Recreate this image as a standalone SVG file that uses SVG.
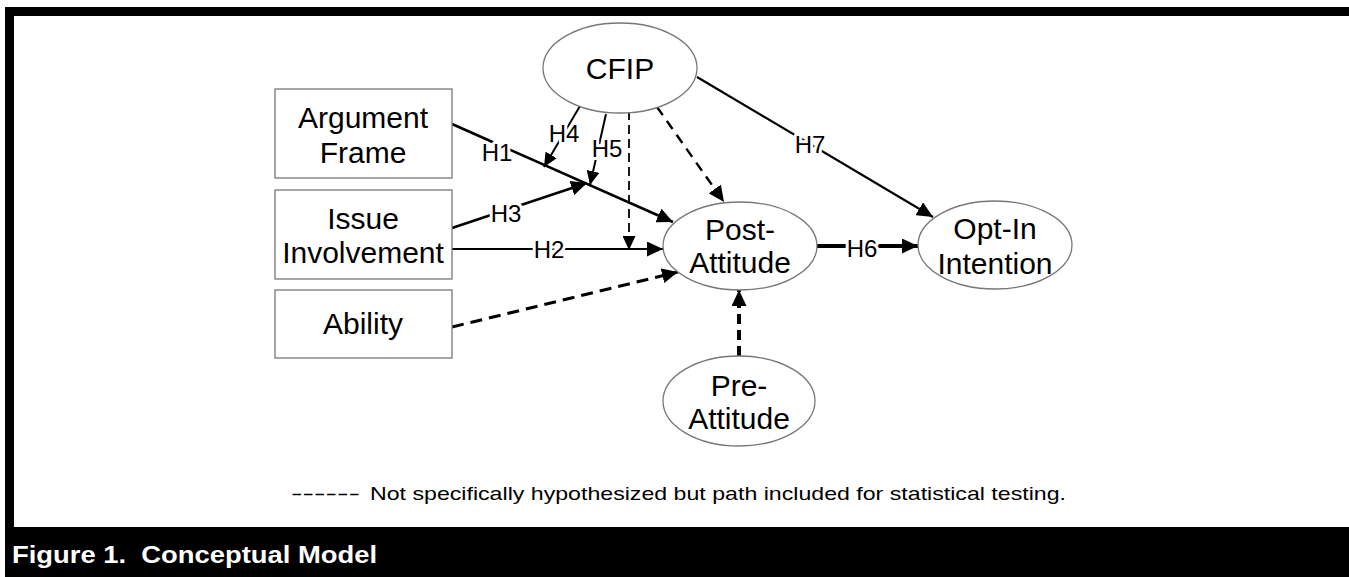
<svg xmlns="http://www.w3.org/2000/svg" width="1349" height="577" viewBox="0 0 1349 577">
<defs>
<style>
.frame{fill:#000}
.box{fill:#fff;stroke:#777;stroke-width:1.3}
.ell{fill:#fff;stroke:#777;stroke-width:1.3}
.nt{font-family:"Liberation Sans",Arial,sans-serif;font-size:30px;fill:#000;text-anchor:middle}
.lbl{font-family:"Liberation Sans",Arial,sans-serif;font-size:24px;fill:#000;text-anchor:middle;stroke:#fff;stroke-width:6px;paint-order:stroke;stroke-linejoin:round}
.c{fill:none;stroke:#000}
.legend{font-family:"Liberation Sans",Arial,sans-serif;font-size:19px;fill:#000}
.cap{font-family:"Liberation Sans",Arial,sans-serif;font-size:23px;font-weight:bold;fill:#fff;white-space:pre}
</style>
<marker id="ah" markerUnits="userSpaceOnUse" markerWidth="17" markerHeight="15" refX="16" refY="7.5" orient="auto"><path d="M0,0 L16,7.5 L0,15 z" fill="#000"/></marker>
<marker id="ahs" markerUnits="userSpaceOnUse" markerWidth="15" markerHeight="13" refX="14" refY="6.5" orient="auto"><path d="M0,0 L14,6.5 L0,13 z" fill="#000"/></marker>
</defs>
<rect width="1349" height="577" fill="#fff"/>
<g id="frame">
<rect class="frame" x="5" y="7" width="1344" height="9"/>
<rect class="frame" x="5" y="7" width="9" height="570"/>
<rect class="frame" x="5" y="527" width="1344" height="50"/>
<text class="cap" x="12" y="563" xml:space="preserve" textLength="365" lengthAdjust="spacingAndGlyphs">Figure 1.  Conceptual Model</text>
</g>
<g id="connectors">
<line class="c" x1="452" y1="124" x2="673" y2="222" stroke-width="2.6" marker-end="url(#ah)"/>
<text class="lbl" x="497" y="161">H1</text>
<line class="c" x1="452" y1="228" x2="587" y2="183" stroke-width="2.6" marker-end="url(#ah)"/>
<text class="lbl" x="506" y="222">H3</text>
<line class="c" x1="452" y1="249" x2="663" y2="249" stroke-width="2" marker-end="url(#ah)"/>
<text class="lbl" x="549" y="258">H2</text>
<line class="c" x1="580" y1="106" x2="544" y2="167" stroke-width="2" marker-end="url(#ahs)"/>
<text class="lbl" x="564" y="142">H4</text>
<line class="c" x1="606" y1="114" x2="590" y2="185" stroke-width="2" marker-end="url(#ahs)"/>
<text class="lbl" x="607" y="157">H5</text>
<line class="c" x1="629" y1="111" x2="629" y2="250" stroke-width="1.8" stroke-dasharray="9,5" marker-end="url(#ahs)"/>
<line class="c" x1="657" y1="107" x2="724" y2="202" stroke-width="2.4" stroke-dasharray="10,7" marker-end="url(#ah)"/>
<line class="c" x1="697" y1="77" x2="933" y2="217" stroke-width="2.2" marker-end="url(#ah)"/>
<text class="lbl" x="810" y="153">H7</text>
<line class="c" x1="817" y1="246" x2="918" y2="246" stroke-width="4" marker-end="url(#ah)"/>
<text class="lbl" x="862" y="257">H6</text>
<line class="c" x1="452" y1="327" x2="678" y2="272" stroke-width="3" stroke-dasharray="12,7" marker-end="url(#ah)"/>
<line class="c" x1="739" y1="356" x2="739" y2="290" stroke-width="4" stroke-dasharray="10,6" marker-end="url(#ah)"/>
</g>
<g id="argument-frame">
<rect class="box" x="275" y="89" width="177" height="89"/>
<text class="nt" x="363" y="128">Argument</text>
<text class="nt" x="363" y="163">Frame</text>
</g>
<g id="issue-involvement">
<rect class="box" x="275" y="190" width="177" height="89"/>
<text class="nt" x="363" y="229">Issue</text>
<text class="nt" x="363" y="263">Involvement</text>
</g>
<g id="ability">
<rect class="box" x="275" y="290" width="177" height="68"/>
<text class="nt" x="363" y="334">Ability</text>
</g>
<g id="cfip">
<ellipse class="ell" cx="620" cy="68" rx="77" ry="45"/>
<text class="nt" x="620" y="79">CFIP</text>
</g>
<g id="post-attitude">
<ellipse class="ell" cx="740" cy="246" rx="77" ry="44"/>
<text class="nt" x="740" y="240">Post-</text>
<text class="nt" x="740" y="273">Attitude</text>
</g>
<g id="opt-in-intention">
<ellipse class="ell" cx="995" cy="245" rx="77" ry="44"/>
<text class="nt" x="995" y="239">Opt-In</text>
<text class="nt" x="995" y="274">Intention</text>
</g>
<g id="pre-attitude">
<ellipse class="ell" cx="739" cy="401" rx="76" ry="45"/>
<text class="nt" x="739" y="396">Pre-</text>
<text class="nt" x="739" y="429">Attitude</text>
</g>
<g id="legend">
<text class="legend" x="291" y="500" textLength="69" lengthAdjust="spacingAndGlyphs">------</text>
<text class="legend" x="370" y="500" textLength="696" lengthAdjust="spacingAndGlyphs">Not specifically hypothesized but path included for statistical testing.</text>
</g>
</svg>
